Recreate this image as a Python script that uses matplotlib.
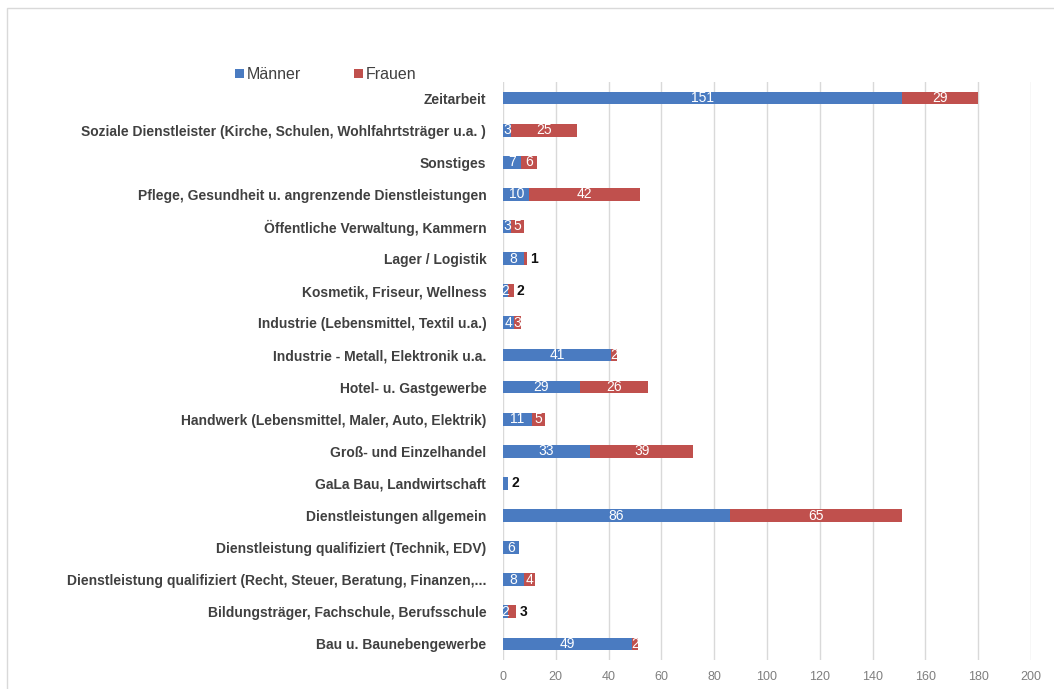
import matplotlib.pyplot as plt
import matplotlib.patches as mpatches
import numpy as np

plt.rcParams['font.family'] = ['Liberation Sans', 'DejaVu Sans']

# Kategorien von oben nach unten
kategorien = [
    'Zeitarbeit',
    'Soziale Dienstleister (Kirche, Schulen, Wohlfahrtsträger u.a. )',
    'Sonstiges',
    'Pflege, Gesundheit u. angrenzende Dienstleistungen',
    'Öffentliche Verwaltung, Kammern',
    'Lager / Logistik',
    'Kosmetik, Friseur, Wellness',
    'Industrie (Lebensmittel, Textil u.a.)',
    'Industrie - Metall, Elektronik u.a.',
    'Hotel- u. Gastgewerbe',
    'Handwerk (Lebensmittel, Maler, Auto, Elektrik)',
    'Groß- und Einzelhandel',
    'GaLa Bau, Landwirtschaft',
    'Dienstleistungen allgemein',
    'Dienstleistung qualifiziert (Technik, EDV)',
    'Dienstleistung qualifiziert (Recht, Steuer, Beratung, Finanzen,...',
    'Bildungsträger, Fachschule, Berufsschule',
    'Bau u. Baunebengewerbe',
]
maenner = [151, 3, 7, 10, 3, 8, 2, 4, 41, 29, 11, 33, 2, 86, 6, 8, 2, 49]
frauen = [29, 25, 6, 42, 5, 1, 2, 3, 2, 26, 5, 39, 0, 65, 0, 4, 3, 2]
# Werte, die ausserhalb (schwarz) beschriftet sind: (index, serie)
aussen = [(5, 'f'), (6, 'f'), (12, 'm'), (16, 'f')]

blau = '#4a7bc1'
rot = '#c0504d'

fig = plt.figure(figsize=(10.54, 6.89), dpi=100)
ax = fig.add_axes([503 / 1054, 1 - 660 / 689, (1031 - 503) / 1054, (660 - 82) / 689])

y = np.arange(len(kategorien))
m = np.array(maenner)
f = np.array(frauen)
ax.barh(y, m, height=0.4, color=blau, label='Männer', zorder=3)
ax.barh(y, f, left=m, height=0.4, color=rot, label='Frauen', zorder=3)

for i in range(len(kategorien)):
    for wert, start, s in [(m[i], 0, 'm'), (f[i], m[i], 'f')]:
        if wert == 0:
            continue
        if (i, s) in aussen:
            ax.text(start + wert + 1.2, i, str(wert), va='center', ha='left',
                    fontsize=10, fontweight='bold', color='#111111', zorder=4)
        else:
            ax.text(start + wert / 2, i, str(wert), va='center', ha='center',
                    fontsize=10, color='white', zorder=4)

ax.set_ylim(len(kategorien) - 0.5, -0.5)
ax.set_xlim(0, 200)
ax.set_xticks(np.arange(0, 201, 20))
ax.set_yticks(y)
ax.set_yticklabels(kategorien, fontsize=10, fontweight='bold', color='#404040')
ax.tick_params(axis='x', length=0, labelsize=9, labelcolor='#7f7f7f', pad=8)
ax.tick_params(axis='y', length=0, pad=12)
ax.grid(axis='x', color='#d9d9d9', linewidth=1, zorder=0)
for sp in ax.spines.values():
    sp.set_visible(False)

ax.legend(loc='upper left', bbox_to_anchor=(235 / 1054, 1 - 67 / 689),
          bbox_transform=fig.transFigure, ncol=2, frameon=False,
          handlelength=0.55, handleheight=0.55, handletextpad=0.2,
          columnspacing=3.3, prop={'size': 11.5}, labelcolor='#404040',
          borderpad=0, borderaxespad=0)

# Rahmen des Diagrammbereichs
fig.patches.append(mpatches.Rectangle((7 / 1054, -0.02), 1.1, 1 - 8 / 689 + 0.02,
                                      transform=fig.transFigure, fill=False,
                                      edgecolor='#d9d9d9', linewidth=1))

fig.savefig('out.png', dpi=100)
